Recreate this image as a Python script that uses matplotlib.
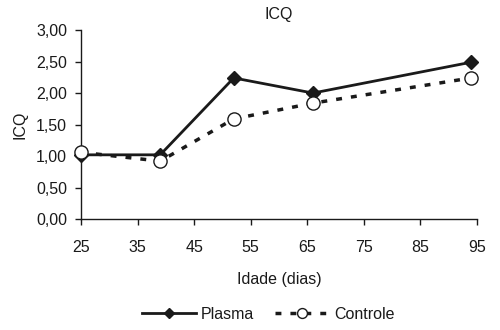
import matplotlib
matplotlib.use("Agg")
import matplotlib.pyplot as plt
from matplotlib.ticker import FuncFormatter

plt.rcParams['font.family'] = ['Liberation Sans', 'DejaVu Sans']

idade = [25, 39, 52, 66, 94]
plasma = [1.02, 1.02, 2.24, 2.00, 2.49]
controle = [1.06, 0.92, 1.59, 1.84, 2.24]
x_ticks = [25, 35, 45, 55, 65, 75, 85, 95]
y_ticks = [0.0, 0.5, 1.0, 1.5, 2.0, 2.5, 3.0]

fig = plt.figure(figsize=(5, 3.3), dpi=100)
ax = fig.add_axes([0.162, 0.336, 0.792, 0.573])

ax.plot(idade, plasma, color='#1a1a1a', lw=2.0, marker='D', ms=7,
        mfc='#1a1a1a', mec='#1a1a1a', label='Plasma', zorder=3, clip_on=False)
ax.plot(idade, controle, color='#1a1a1a', lw=2.5, ls=(0, (1.7, 2.6)), marker='o',
        ms=9.5, mfc='white', mec='#1a1a1a', mew=1.0, label='Controle', zorder=4,
        clip_on=False)

ax.set_xlim(25, 95)
ax.set_ylim(0, 3)
ax.set_xticks(x_ticks)
ax.set_yticks(y_ticks)
ax.yaxis.set_major_formatter(FuncFormatter(lambda v, p: f"{v:.2f}".replace('.', ',')))
ax.spines['top'].set_visible(False)
ax.spines['right'].set_visible(False)
for s in ('left', 'bottom'):
    ax.spines[s].set_linewidth(1.0)
    ax.spines[s].set_color('#1a1a1a')
ax.tick_params(direction='out', length=4, width=1, labelsize=11.5, colors='#1a1a1a')
ax.tick_params(axis='x', pad=11)
ax.tick_params(axis='y', pad=6)

ax.set_title('ICQ', fontsize=11.5, pad=8, color='#1a1a1a')
ax.set_xlabel('Idade (dias)', fontsize=11.5, labelpad=12, color='#1a1a1a')
ax.set_ylabel('ICQ', fontsize=11.5, labelpad=6, color='#1a1a1a')

leg = fig.legend(loc='center', bbox_to_anchor=(0.536, 0.048), ncol=2, frameon=False,
                 fontsize=11.5, handlelength=3.4, columnspacing=1.3,
                 handletextpad=0.3, markerscale=0.75)
for t in leg.get_texts():
    t.set_color('#1a1a1a')

fig.savefig('out.png', dpi=100)
